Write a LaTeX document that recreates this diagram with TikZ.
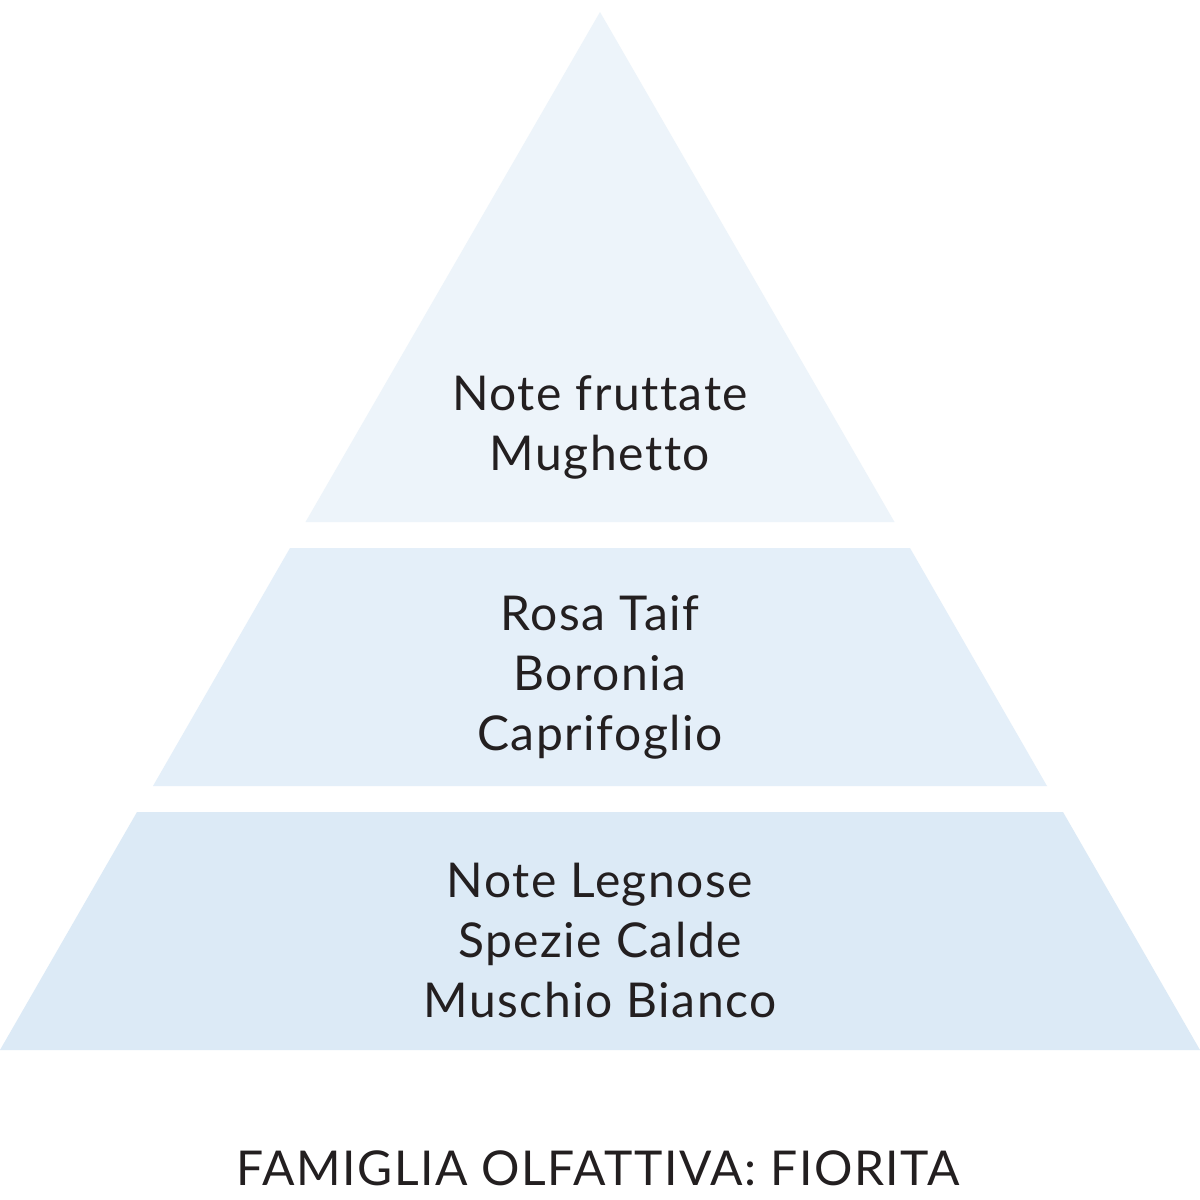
\documentclass[tikz,border=0pt]{standalone}
\usepackage{fontspec}
\setmainfont{Lato}[LetterSpace=3.2,Ligatures=NoCommon]
\definecolor{tiertop}{HTML}{EDF4FA}
\definecolor{tiermid}{HTML}{E4EFF9}
\definecolor{tierbot}{HTML}{DCEAF6}
\definecolor{ink}{HTML}{231F20}
\begin{document}
\begin{tikzpicture}[x=1pt,y=-1pt,
  lbl/.style={anchor=base,inner sep=0pt,text=ink,font=\fontsize{48}{56}\selectfont}]
\useasboundingbox (0,0) rectangle (1200,1200);
\fill[white] (0,0) rectangle (1200,1200);
\fill[tiertop] (600,12) -- (894.5,522) -- (305.5,522) -- cycle;
\fill[tiermid] (290,548) -- (910,548) -- (1047,786) -- (153,786) -- cycle;
\fill[tierbot] (137,812) -- (1063,812) -- (1200,1050) -- (0,1050) -- cycle;
\node[lbl] (t1) at (600,410) {Note fruttate};
\node[lbl] (t2) at (600,470) {Mughetto};
\node[lbl] (m1) at (600,630) {Rosa Taif};
\node[lbl] (m2) at (600,690) {Boronia};
\node[lbl] (m3) at (600,750) {Caprifoglio};
\node[lbl] (b1) at (600,897) {Note Legnose};
\node[lbl] (b2) at (600,957) {Spezie Calde};
\node[lbl] (b3) at (600,1017) {Muschio Bianco};
\node[lbl] (title) at (598,1185) {FAMIGLIA OLFATTIVA: FIORITA};
\end{tikzpicture}
\end{document}
